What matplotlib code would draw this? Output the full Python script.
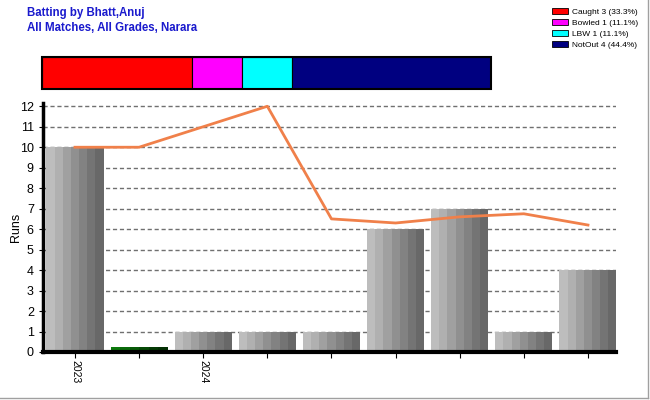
import matplotlib.pyplot as plt
import numpy as np

# innings in order, runs scored
runs = [10, 0.25, 1, 1, 1, 6, 7, 1, 4]
not_scored = [False, True, False, False, False, False, False, False, False]
tick_labels = ["2023", "", "2024", "", "", "", "", "", ""]
# running average line
avg = [10, 10, 11, 12, 6.5, 6.3, 6.6, 6.75, 6.2]

# how out
out_labels = ["Caught 3 (33.3%)", "Bowled 1 (11.1%)", "LBW 1 (11.1%)", "NotOut 4 (44.4%)"]
out_counts = [3, 1, 1, 4]
out_colors = ["#ff0000", "#ff00ff", "#00ffff", "#000080"]

fig = plt.figure(figsize=(6.5, 4), dpi=100)
plt.rcParams['font.family'] = ['Liberation Sans', 'DejaVu Sans']

fig.text(0.042, 0.968, "Batting by Bhatt,Anuj", color="#1a1acd", fontsize=8.3,
         fontweight="bold", va="center")
fig.text(0.042, 0.93, "All Matches, All Grades, Narara", color="#1a1acd", fontsize=8.3,
         fontweight="bold", va="center")

# border on right/bottom
fig.add_artist(plt.Line2D([0.997, 0.997], [0.005, 1], color="#a0a0a0", lw=1))
fig.add_artist(plt.Line2D([0, 0.997], [0.006, 0.006], color="#a0a0a0", lw=1))

# dismissal strip
ax2 = fig.add_axes([0.0646, 0.7775, 0.691, 0.08])
left = 0
for c, col in zip(out_counts, out_colors):
    ax2.barh(0, c, left=left, height=1, color=col, edgecolor="black", lw=0.8)
    left += c
ax2.set_xlim(0, sum(out_counts))
ax2.set_ylim(-0.5, 0.5)
ax2.axis("off")
ax2.add_patch(plt.Rectangle((0, -0.5), sum(out_counts), 1, fill=False, ec="black", lw=1.5,
                            transform=ax2.transData, clip_on=False))

# legend
handles = [plt.Rectangle((0, 0), 1, 1, fc=c, ec="black", lw=0.6) for c in out_colors]
leg = fig.legend(handles, out_labels, loc="upper right", bbox_to_anchor=(0.994, 1.0),
                 fontsize=6, frameon=False,
                 handlelength=2.0, handleheight=0.75, handletextpad=0.4,
                 labelspacing=0.35, borderpad=0.5)

ax = fig.add_axes([0.066, 0.12, 0.882, 0.622])
x = np.arange(len(runs))
w = 0.89
grays = ["#bdbdbd", "#b0b0b0", "#a0a0a0", "#909090", "#828282", "#747474", "#686868"]
greens = ["#0c7a0c", "#0a6a0a", "#085a08", "#064a06", "#043a04", "#033003"]
for xi, r, ns in zip(x, runs, not_scored):
    cols = greens if ns else grays
    k = len(cols)
    sw = w / k
    for j, col in enumerate(cols):
        ax.bar(xi - w / 2 + sw * j, r, width=sw, align="edge", color=col, lw=0, zorder=2)

ax.plot(x, avg, color="#f0804a", lw=2, zorder=3)

ax.set_xlim(-0.5, 8.44)
ax.set_ylim(0, 12.15)
ax.set_yticks(range(0, 13))
ax.yaxis.grid(True, linestyle=(0, (3, 2)), color="#707070", lw=1, zorder=0)
ax.set_axisbelow(True)
ax.set_xticks(x)
ax.set_xticklabels(tick_labels, rotation=-90, fontsize=7.5)
ax.tick_params(axis="y", labelsize=9, length=3)
ax.tick_params(axis="x", length=4, pad=2)
ax.set_ylabel("Runs", fontsize=9)
ax.yaxis.set_label_coords(-0.037, 0.5)
ax.spines["top"].set_visible(False)
ax.spines["right"].set_visible(False)
ax.spines["left"].set_linewidth(2.5)
ax.spines["bottom"].set_linewidth(3)

fig.savefig("out.png", dpi=100)
